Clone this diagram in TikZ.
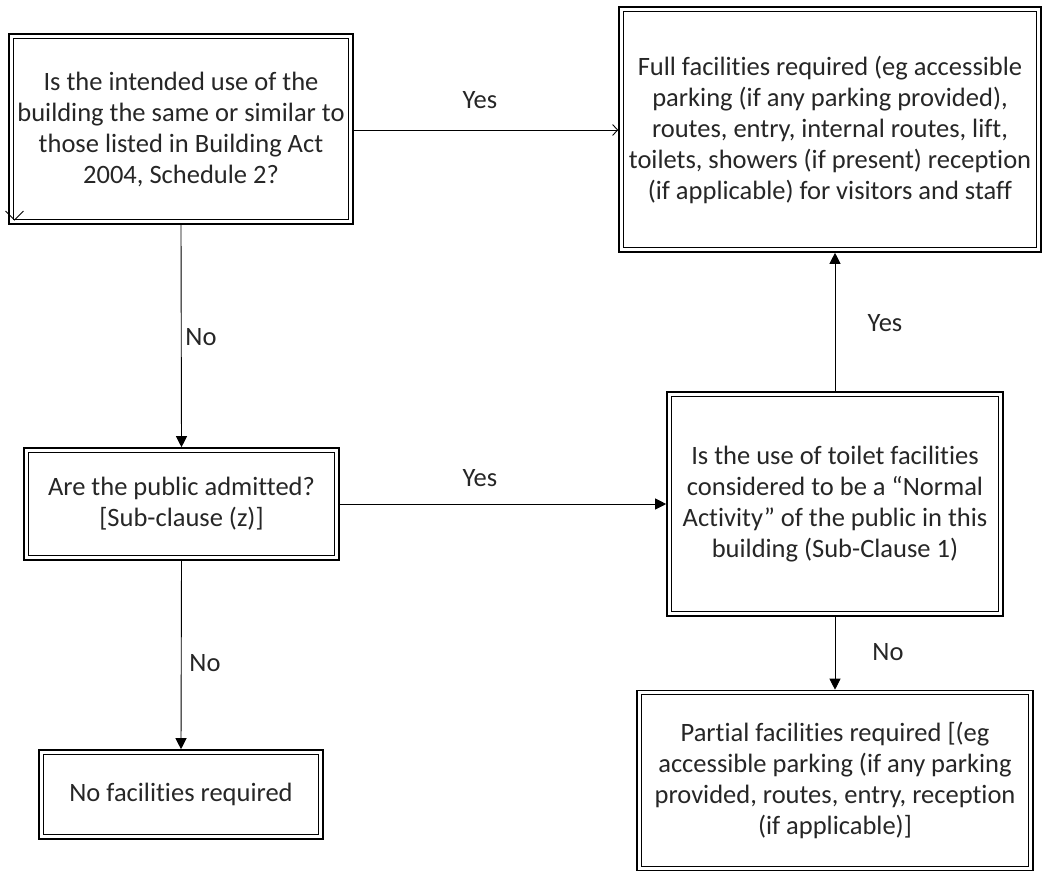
\documentclass[tikz,border=0pt]{standalone}
\usepackage{fontspec}
\setmainfont{Carlito}[Ligatures=CommonOff]
\usetikzlibrary{arrows.meta}
\tikzset{
  dbox/.style={draw=black, line width=1.6pt, align=center, inner sep=0pt,
    font=\fontsize{26.5}{31}\selectfont, text=black!85},
  inbox/.style={draw=black, line width=1pt},
  conn/.style={draw=black, line width=0.9pt},
  fillarrow/.style={conn, -{Triangle[length=11pt,width=11pt]}},
  openarrow/.style={conn, -{Straight Barb[length=5pt,width=11pt,line width=0.9pt]}},
  lbl/.style={font=\fontsize{26.5}{30}\selectfont, text=black!85}
}
\newcommand{\innerframe}[1]{\draw[inbox] ([shift={(5,5)}]#1.north west) rectangle ([shift={(-5,-5)}]#1.south east);}
\begin{document}
\begin{tikzpicture}[x=1pt,y=-1pt]
\useasboundingbox (0,0) rectangle (1044,873);
\node[dbox, minimum width=344, minimum height=190] (q1) at (181,129)
  {Is the intended use of the\\building the same or similar to\\those listed in Building Act\\2004, Schedule 2?};
\node[dbox, minimum width=422, minimum height=245] (full) at (830,129.5)
  {Full facilities required (eg accessible\\parking (if any parking provided),\\routes, entry, internal routes, lift,\\toilets, showers (if present) reception\\(if applicable) for visitors and staff};
\node[dbox, minimum width=315, minimum height=112] (q2) at (181.5,504)
  {Are the public admitted?\\{}[Sub-clause (z)]};
\node[dbox, minimum width=336, minimum height=224] (q3) at (835,504)
  {Is the use of toilet facilities\\considered to be a “Normal\\Activity” of the public in this\\building (Sub-Clause 1)};
\node[dbox, minimum width=396, minimum height=180] (part) at (835,780.5)
  {Partial facilities required [(eg\\accessible parking (if any parking\\provided, routes, entry, reception\\(if applicable)]};
\node[dbox, minimum width=284, minimum height=89] (none) at (181,794.5)
  {No facilities required};
\innerframe{q1}
\innerframe{full}
\innerframe{q2}
\innerframe{q3}
\innerframe{part}
\innerframe{none}
% connectors
\draw[openarrow] (q1.east |- 0,130) -- (full.west |- 0,130);
\node[lbl] (y1) at (480,100) {Yes};
\draw[fillarrow] (q1.south) -- (q2.north);
\node[lbl] (n1) at (201,337) {No};
\draw[fillarrow] (q2.east) -- (q3.west);
\node[lbl] (y2) at (480,478) {Yes};
\draw[fillarrow] (q3.north) -- (q3.north |- full.south);
\node[lbl] (y3) at (885,323) {Yes};
\draw[fillarrow] (q3.south) -- (part.north);
\node[lbl] (n2) at (888,652) {No};
\draw[fillarrow] (q2.south) -- (none.north);
\node[lbl] (n3) at (205,663) {No};
% stray open tip at lower left of first box
\coordinate (tip) at (14.5,220);
\draw[conn] ([shift={(-9,-9)}]tip) -- (tip) -- ([shift={(9,-9)}]tip);
\end{tikzpicture}
\end{document}
